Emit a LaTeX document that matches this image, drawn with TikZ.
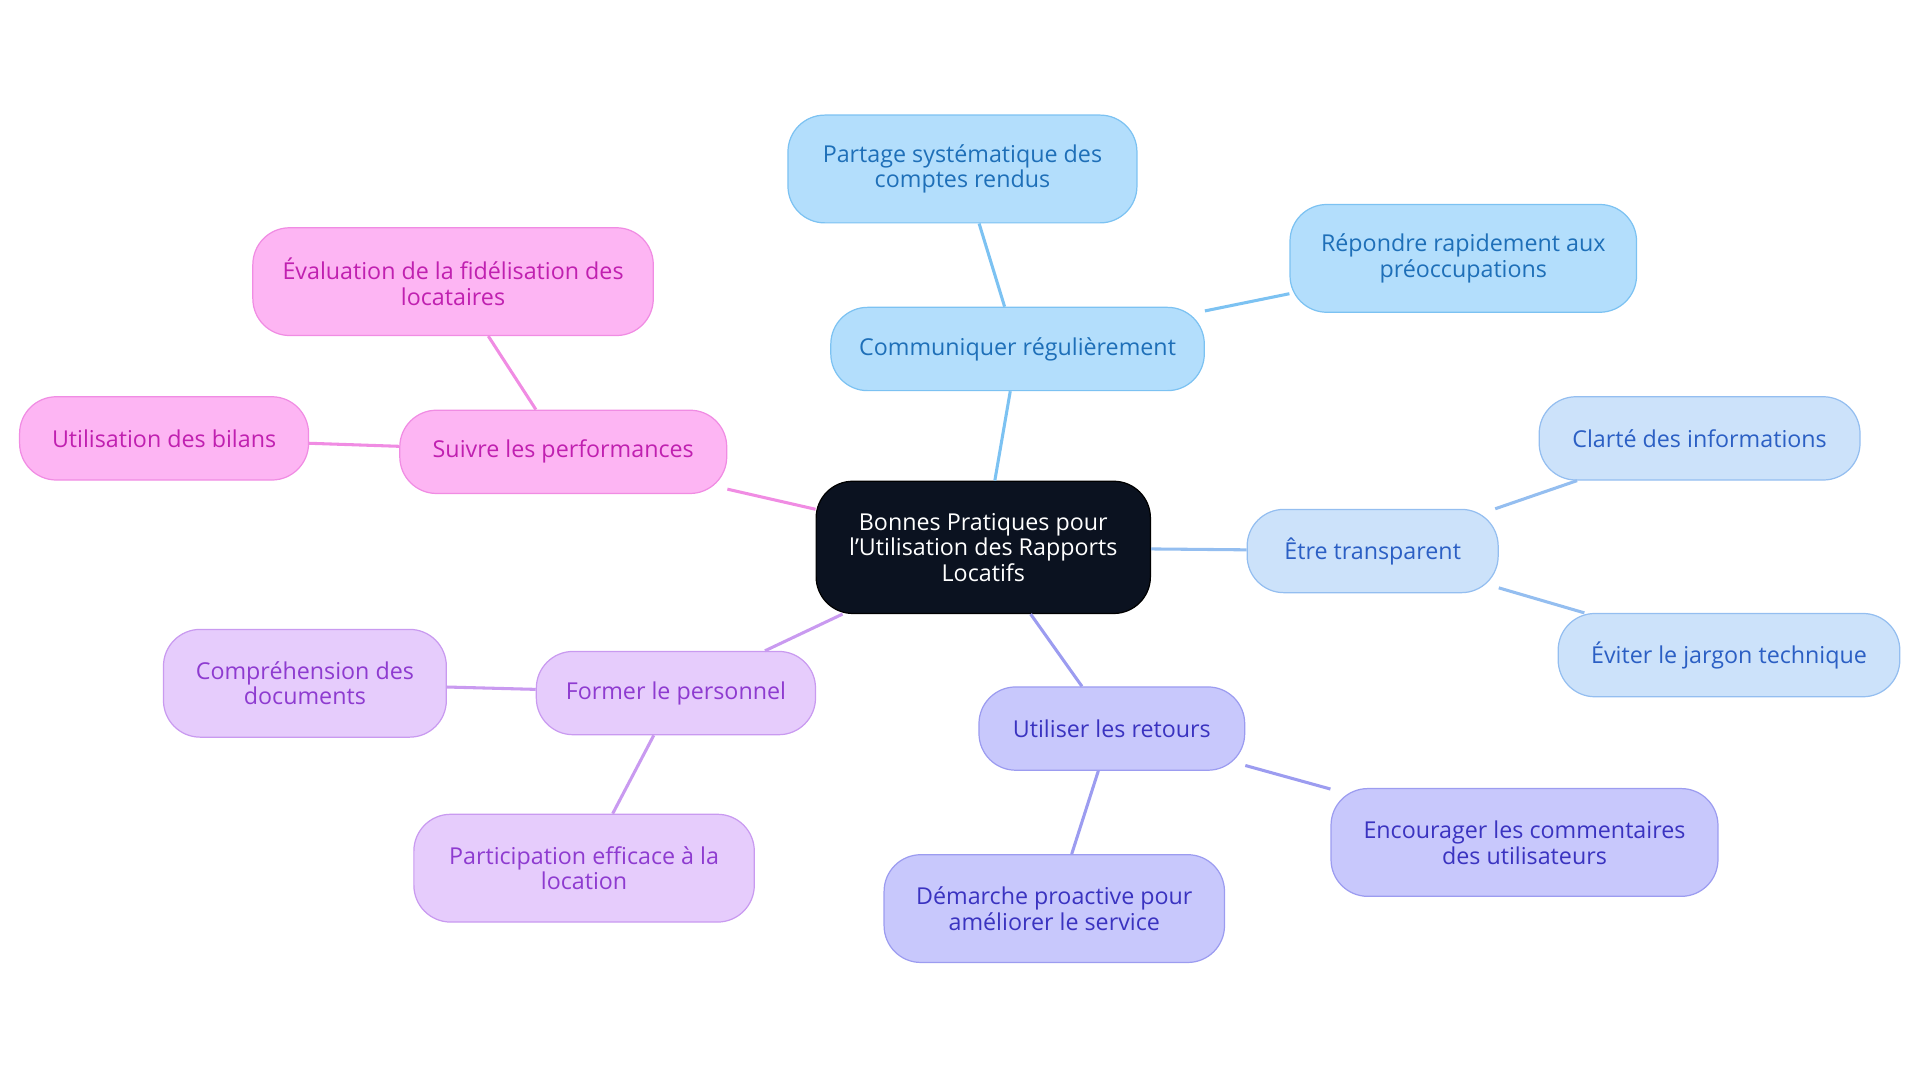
\documentclass[tikz,border=0pt]{standalone}
\usepackage{fontspec}
\setmainfont{Open Sans}
\usetikzlibrary{positioning}
\definecolor{centrefill}{HTML}{0B1220}
\definecolor{bluefill}{HTML}{B3DEFC}\definecolor{blueline}{HTML}{7CC2F2}\definecolor{bluetext}{HTML}{1E6FB8}
\definecolor{skyfill}{HTML}{CCE2FA}\definecolor{skyline}{HTML}{94BEF0}\definecolor{skytext}{HTML}{2B5FC4}
\definecolor{violetfill}{HTML}{C8C8FC}\definecolor{violetline}{HTML}{9C9CF0}\definecolor{violettext}{HTML}{3A33C0}
\definecolor{lilacfill}{HTML}{E6CCFC}\definecolor{lilacline}{HTML}{C99AF0}\definecolor{lilactext}{HTML}{8E3BD0}
\definecolor{pinkfill}{HTML}{FDB5F3}\definecolor{pinkline}{HTML}{F08CE3}\definecolor{pinktext}{HTML}{C020B0}
\tikzset{
    box/.style={draw, rounded corners=30pt, align=center, font=\fontsize{19pt}{21pt}\selectfont, inner sep=0pt, line width=1pt},
    blue/.style={box, fill=bluefill, draw=blueline, text=bluetext},
    sky/.style={box, fill=skyfill, draw=skyline, text=skytext},
    violet/.style={box, fill=violetfill, draw=violetline, text=violettext},
    lilac/.style={box, fill=lilacfill, draw=lilacline, text=lilactext},
    pink/.style={box, fill=pinkfill, draw=pinkline, text=pinktext},
    link/.style={line width=2.5pt}
}
\begin{document}
\begin{tikzpicture}[x=1pt,y=-1pt]
\useasboundingbox (0,0) rectangle (1568,884);
% branches first
\begin{scope}[on background layer/.style={}]
\node[box, fill=centrefill, draw=black, text=white, minimum width=273pt, minimum height=108pt] (centre) at (803,447) {Bonnes Pratiques pour\\l'Utilisation des Rapports\\Locatifs};
\node[blue, minimum width=305pt, minimum height=68pt] (comm) at (831,285) {Communiquer régulièrement};
\node[blue, minimum width=285pt, minimum height=88pt] (partage) at (786,138) {Partage systématique des\\comptes rendus};
\node[blue, minimum width=283pt, minimum height=88pt] (repondre) at (1195,211) {Répondre rapidement aux\\préoccupations};
\node[sky, minimum width=205pt, minimum height=68pt] (transp) at (1121,450) {Être transparent};
\node[sky, minimum width=262pt, minimum height=68pt] (clarte) at (1388,358) {Clarté des informations};
\node[sky, minimum width=279pt, minimum height=68pt] (jargon) at (1412,535) {Éviter le jargon technique};
\node[violet, minimum width=217pt, minimum height=68pt] (retours) at (908,595) {Utiliser les retours};
\node[violet, minimum width=316pt, minimum height=88pt] (encour) at (1245,688) {Encourager les commentaires\\des utilisateurs};
\node[violet, minimum width=278pt, minimum height=88pt] (demarche) at (861,742) {Démarche proactive pour\\améliorer le service};
\node[lilac, minimum width=228pt, minimum height=68pt] (former) at (552,566) {Former le personnel};
\node[lilac, minimum width=231pt, minimum height=88pt] (compr) at (249,558) {Compréhension des\\documents};
\node[lilac, minimum width=278pt, minimum height=88pt] (partic) at (477,709) {Participation efficace à la\\location};
\node[pink, minimum width=267pt, minimum height=68pt] (suivre) at (460,369) {Suivre les performances};
\node[pink, minimum width=327pt, minimum height=88pt] (evalu) at (370,230) {Évaluation de la fidélisation des\\locataires};
\node[pink, minimum width=236pt, minimum height=68pt] (bilans) at (134,358) {Utilisation des bilans};
\end{scope}

\draw[link, blueline] (centre) -- (comm);
\draw[link, blueline] (comm) -- (partage);
\draw[link, blueline] (comm) -- (repondre);
\draw[link, skyline] (centre) -- (transp);
\draw[link, skyline] (transp) -- (clarte);
\draw[link, skyline] (transp) -- (jargon);
\draw[link, violetline] (centre) -- (retours);
\draw[link, violetline] (retours) -- (encour);
\draw[link, violetline] (retours) -- (demarche);
\draw[link, lilacline] (centre) -- (former);
\draw[link, lilacline] (former) -- (compr);
\draw[link, lilacline] (former) -- (partic);
\draw[link, pinkline] (centre) -- (suivre);
\draw[link, pinkline] (suivre) -- (evalu);
\draw[link, pinkline] (suivre) -- (bilans);
\end{tikzpicture}
\end{document}
